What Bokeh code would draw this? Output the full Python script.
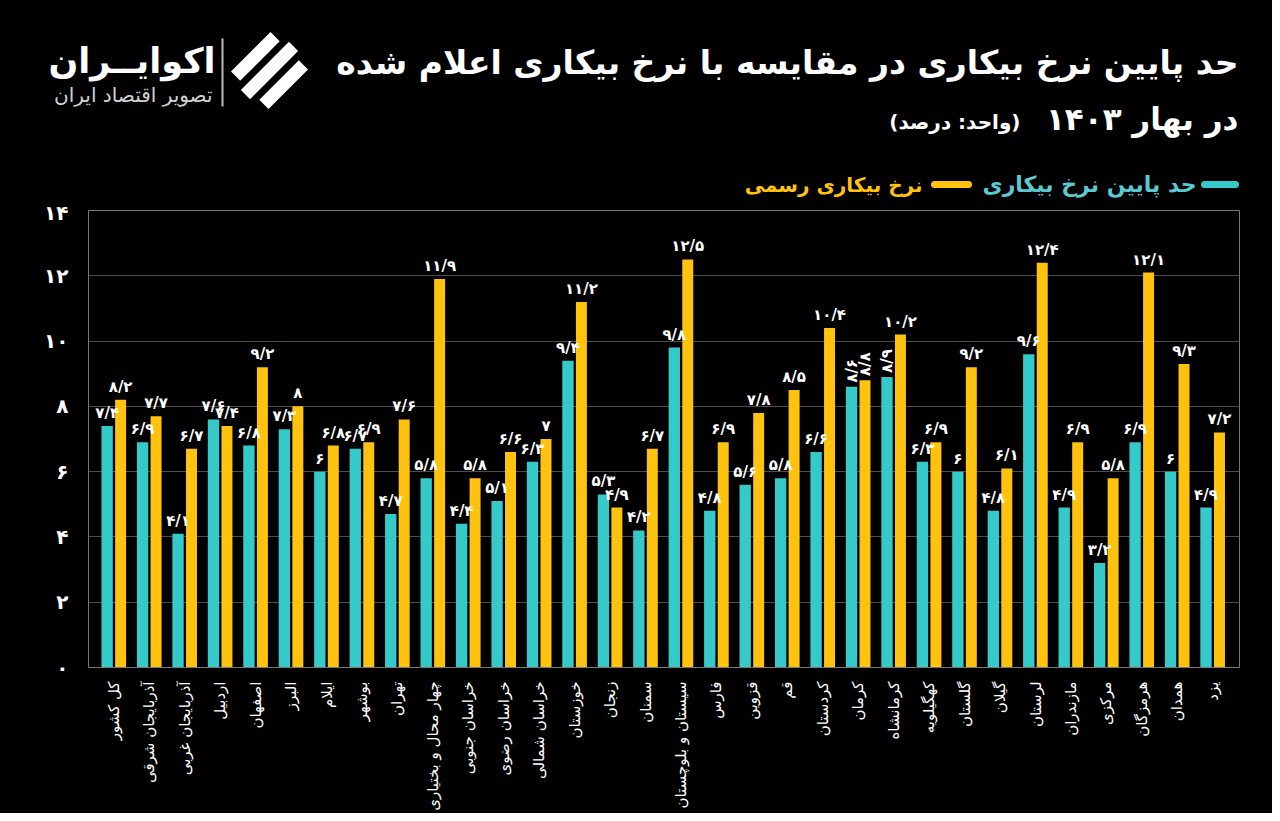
import math
from bokeh.plotting import figure
from bokeh.layouts import column
from bokeh.models import ColumnDataSource, FixedTicker, Range1d
from bokeh.core.properties import value
from bokeh.embed import file_html
from bokeh.resources import INLINE

# ---------------- data ----------------
provinces = ["کل کشور", "آذربایجان شرقی", "آذربایجان غربی", "اردبیل", "اصفهان", "البرز",
             "ایلام", "بوشهر", "تهران", "چهار محال و بختیاری", "خراسان جنوبی", "خراسان رضوی",
             "خراسان شمالی", "خوزستان", "زنجان", "سمنان", "سیستان و بلوچستان", "فارس",
             "قزوین", "قم", "کردستان", "کرمان", "کرمانشاه", "کهگیلویه", "گلستان", "گیلان",
             "لرستان", "مازندران", "مرکزی", "هرمزگان", "همدان", "یزد"]
lower_bound = [7.4, 6.9, 4.1, 7.6, 6.8, 7.3, 6.0, 6.7, 4.7, 5.8, 4.4, 5.1, 6.3, 9.4, 5.3, 4.2,
               9.8, 4.8, 5.6, 5.8, 6.6, 8.6, 8.9, 6.3, 6.0, 4.8, 9.6, 4.9, 3.2, 6.9, 6.0, 4.9]
official = [8.2, 7.7, 6.7, 7.4, 9.2, 8.0, 6.8, 6.9, 7.6, 11.9, 5.8, 6.6, 7.0, 11.2, 4.9, 6.7,
            12.5, 6.9, 7.8, 8.5, 10.4, 8.8, 10.2, 6.9, 9.2, 6.1, 12.4, 6.9, 5.8, 12.1, 9.3, 7.2]
y_ticks = [0, 2, 4, 6, 8, 10, 12, 14]
series_names = ["حد پایین نرخ بیکاری", "نرخ بیکاری رسمی"]
title_line1 = "حد پایین نرخ بیکاری در مقایسه با نرخ بیکاری اعلام شده"
title_line2 = "در بهار ۱۴۰۳"
unit_text = "(واحد: درصد)"
brand = "اکوایــران"
brand_sub = "تصویر اقتصاد ایران"
rotated_lower = ["کرمان", "کرمانشاه"]
rotated_official = ["کرمان"]

TEAL = "#36C9C9"
TEAL_TXT = "#5CC8D0"
YELLOW = "#FFC20E"
BG = "#000000"
FONT = "DejaVu Sans"
W, H = 1272, 813
HEAD_H = 200

FA = str.maketrans("0123456789.", "۰۱۲۳۴۵۶۷۸۹/")


def fa(v):
    return ("%g" % v).translate(FA)


# ---------------- header (title, logo, legend) ----------------
head = figure(width=W, height=HEAD_H, x_range=Range1d(0, W), y_range=Range1d(HEAD_H, 0),
              output_backend="svg", toolbar_location=None, x_axis_type=None, y_axis_type=None,
              background_fill_color=BG, border_fill_color=BG, outline_line_color=None,
              min_border=0, frame_align=False)
head.xgrid.grid_line_color = None
head.ygrid.grid_line_color = None


def htext(text, x, y, size, color="white", align="right", bold=True):
    head.text(x=[x], y=[y], text=[text], text_align=align, text_baseline="middle",
              text_color=color, text_font=value(FONT), text_font_size=f"{size}px",
              text_font_style="bold" if bold else "normal")


htext(title_line1, 1238, 62, 33)
htext(title_line2, 1238, 118, 31)
htext(unit_text, 1020, 121, 20)
htext(brand, 215, 60, 35)
htext(brand_sub, 212, 94, 20, color="#d0d0d0", bold=False)

# separator and logo mark
head.segment(x0=[222], y0=[38], x1=[222], y1=[106], line_color="#bbbbbb", line_width=2)
cx, cy, R = 269, 70, 36
d = (math.cos(math.radians(-45)), math.sin(math.radians(-45)))
nrm = (-d[1], d[0])
xs, ys = [], []
for t in (-20, 0, 20):
    L = math.sqrt(max(R * R - t * t, 0)) - 2
    hw = 6.5
    px, py = [], []
    for s1, s2 in ((-1, -1), (1, -1), (1, 1), (-1, 1)):
        px.append(cx + t * nrm[0] + s2 * hw * nrm[0] + s1 * L * d[0])
        py.append(cy + t * nrm[1] + s2 * hw * nrm[1] + s1 * L * d[1])
    xs.append(px); ys.append(py)
head.patches(xs=xs, ys=ys, fill_color="white", line_color=None)

# legend
head.segment(x0=[1204], y0=[184], x1=[1235], y1=[184], line_color=TEAL, line_width=7, line_cap="round")
htext(series_names[0], 1196, 184, 22, color=TEAL_TXT)
head.segment(x0=[934], y0=[184], x1=[968], y1=[184], line_color=YELLOW, line_width=7, line_cap="round")
htext(series_names[1], 922, 184, 20, color=YELLOW)

# ---------------- chart ----------------
n = len(provinces)
idx = list(range(n))
OFF_T, OFF_Y = -0.19, 0.19

src = ColumnDataSource(dict(
    xt=[i + OFF_T for i in idx], xy=[i + OFF_Y for i in idx],
    lower=lower_bound, official=official,
))

CH = H - HEAD_H
p = figure(width=W, height=CH, x_range=Range1d(-0.716, 31.755), y_range=Range1d(0, 14),
           output_backend="svg", toolbar_location=None,
           background_fill_color=BG, border_fill_color=BG,
           min_border_left=88, min_border_right=W - 1239, min_border_top=210 - HEAD_H,
           min_border_bottom=CH - (667 - HEAD_H), frame_align=False)

p.vbar(x="xt", top="lower", width=0.32, source=src, fill_color=TEAL, line_color=None)
p.vbar(x="xy", top="official", width=0.31, source=src, fill_color=YELLOW, line_color=None)

norm = dict(x=[], y=[], t=[])
rot = dict(x=[], y=[], t=[])
for i, name in enumerate(provinces):
    dd = rot if name in rotated_lower else norm
    dd["x"].append(i + OFF_T); dd["y"].append(lower_bound[i]); dd["t"].append(fa(lower_bound[i]))
    dd = rot if name in rotated_official else norm
    dd["x"].append(i + OFF_Y); dd["y"].append(official[i]); dd["t"].append(fa(official[i]))

p.text(x="x", y="y", text="t", source=ColumnDataSource(norm), text_align="center",
       text_baseline="bottom", y_offset=-4, text_color="white", text_font=value(FONT),
       text_font_size="15px", text_font_style="bold")
p.text(x="x", y="y", text="t", source=ColumnDataSource(rot), text_align="left",
       text_baseline="middle", y_offset=-4, angle=math.pi / 2, text_color="white",
       text_font=value(FONT), text_font_size="15px", text_font_style="bold")

xa = p.xaxis[0]
xa.ticker = FixedTicker(ticks=idx)
xa.major_label_overrides = {i: provinces[i] for i in idx}
xa.major_label_orientation = math.pi / 2
xa.major_tick_line_color = None
xa.minor_tick_line_color = None
xa.axis_line_color = "#777777"
xa.major_label_text_color = "white"
xa.major_label_text_font = FONT
xa.major_label_text_font_size = "15px"
xa.major_label_standoff = 8

ya = p.yaxis[0]
ya.ticker = FixedTicker(ticks=y_ticks)
ya.major_label_overrides = {t: fa(t) for t in y_ticks}
ya.major_tick_line_color = None
ya.minor_tick_line_color = None
ya.axis_line_color = "#777777"
ya.major_label_text_color = "white"
ya.major_label_text_font = FONT
ya.major_label_text_font_size = "20px"
ya.major_label_text_font_style = "bold"
ya.major_label_standoff = 14

p.xgrid.grid_line_color = None
p.ygrid.grid_line_color = "#4d4d4d"
p.outline_line_color = "#777777"

layout = column(head, p, spacing=0, styles={"background-color": BG})
open("out.html", "w").write(file_html(layout, INLINE))
